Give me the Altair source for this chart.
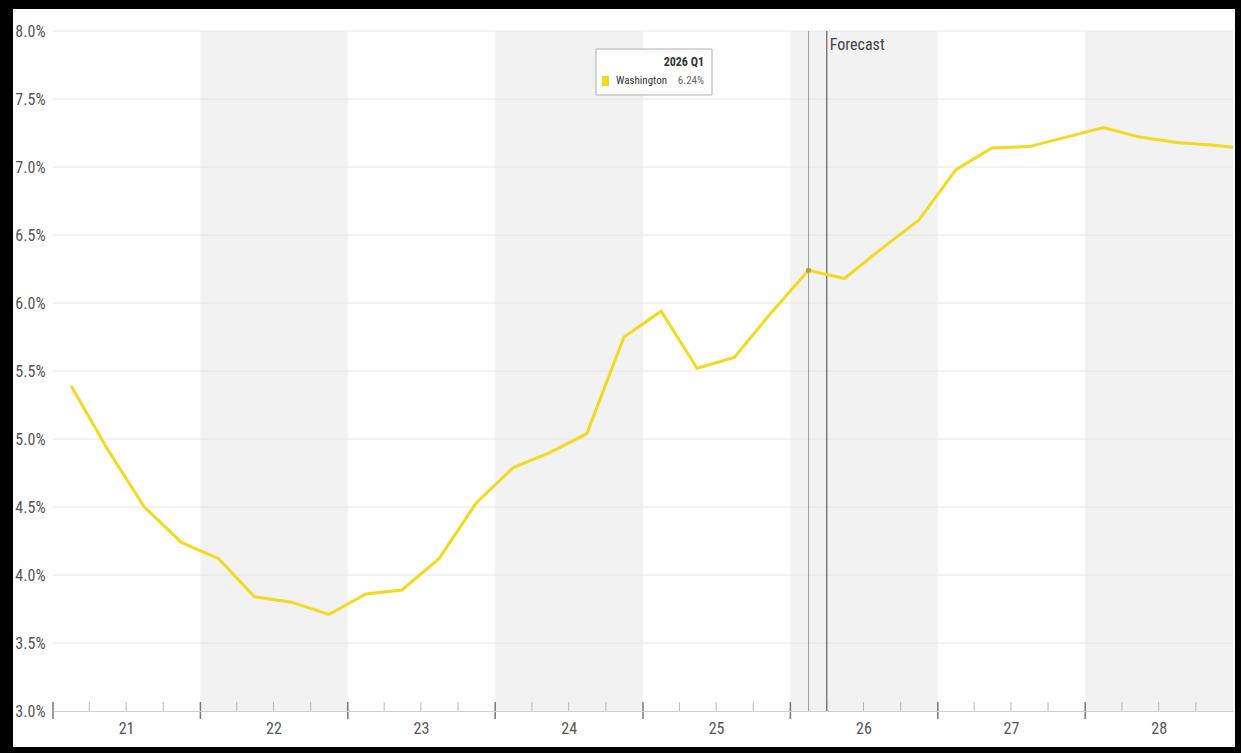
import altair as alt
import pandas as pd

# ---- data ----
quarters = [
    "2021-02-15", "2021-05-15", "2021-08-15", "2021-11-15",
    "2022-02-15", "2022-05-15", "2022-08-15", "2022-11-15",
    "2023-02-15", "2023-05-15", "2023-08-15", "2023-11-15",
    "2024-02-15", "2024-05-15", "2024-08-15", "2024-11-15",
    "2025-02-15", "2025-05-15", "2025-08-15", "2025-11-15",
    "2026-02-15", "2026-05-15", "2026-08-15", "2026-11-15",
    "2027-02-15", "2027-05-15", "2027-08-15", "2027-11-15",
    "2028-02-15", "2028-05-15", "2028-08-15", "2028-11-15",
    "2029-02-15",
]
washington = [
    5.39, 4.93, 4.50, 4.24,
    4.12, 3.84, 3.80, 3.71,
    3.86, 3.89, 4.12, 4.53,
    4.79, 4.90, 5.04, 5.75,
    5.94, 5.52, 5.60, 5.93,
    6.24, 6.18, 6.40, 6.61,
    6.98, 7.14, 7.15, 7.22,
    7.29, 7.22, 7.18, 7.16,
    7.13,
]
series_name = "Washington"
shaded_years = [2022, 2024, 2026, 2028]
year_bounds = [2021, 2022, 2023, 2024, 2025, 2026, 2027, 2028]
label_years = [2021, 2022, 2023, 2024, 2025, 2026, 2027, 2028]
y_ticks = [3.0, 3.5, 4.0, 4.5, 5.0, 5.5, 6.0, 6.5, 7.0, 7.5, 8.0]
forecast_start = "2026-04-01"
forecast_label = "Forecast"
hover_index = 20
hover_label = "2026 Q1"

X_MIN, X_MAX = "2021-01-01", "2029-01-01"
Y_MIN, Y_MAX = 3.0, 8.0
FONT = "Liberation Sans Narrow, Roboto Condensed, Roboto, sans-serif"
LINE_COLOR = "#F3D91F"

xs = alt.Scale(domain=[X_MIN, X_MAX])
ys = alt.Scale(domain=[Y_MIN, Y_MAX])

df = pd.DataFrame({"date": quarters, "value": washington, "series": series_name})
bands = pd.DataFrame({
    "start": [f"{y}-01-01" for y in shaded_years],
    "end": [f"{y + 1}-01-01" for y in shaded_years],
})
major = pd.DataFrame({"date": [f"{y}-01-01" for y in year_bounds]})
minor = pd.DataFrame({"date": [f"{y}-{m:02d}-01" for y in year_bounds for m in (4, 7, 10)]})
grid = pd.DataFrame({"v": [v for v in y_ticks if v > Y_MIN]})
one = pd.DataFrame({"k": [0]})
hover = pd.DataFrame({
    "date": [quarters[hover_index]],
    "value": [washington[hover_index]],
    "label": [hover_label],
    "series": [series_name],
    "vtxt": [f"{washington[hover_index]:.2f}%"],
})
fc = pd.DataFrame({"date": [forecast_start], "label": [forecast_label]})

# white card behind the chart (black frame around)
card = alt.Chart(one).mark_rect(color="white").encode(
    x=alt.value(-40), x2=alt.value(1182), y=alt.value(-22), y2=alt.value(716)
)

band_layer = alt.Chart(bands).mark_rect(color="#f2f2f2").encode(
    x=alt.X("start:T", scale=xs,
            axis=alt.Axis(values=[f"{y}-07-01" for y in label_years], format="%y",
                          ticks=False, grid=False, labelPadding=9, domainColor="#cfcfcf",
                          labelFont=FONT, labelFontSize=16, labelColor="#555555",
                          zindex=1, title=None)),
    x2="end:T",
    y=alt.datum(Y_MIN, scale=ys),
    y2=alt.datum(Y_MAX),
)

grid_layer = alt.Chart(grid).mark_rule(color="#e6e6e6", strokeWidth=1).encode(
    y=alt.Y("v:Q", scale=ys,
            axis=alt.Axis(values=y_ticks, labelExpr="format(datum.value, '.1f') + '%'",
                          ticks=False, domain=False, grid=False, labelPadding=8,
                          labelFont=FONT, labelFontSize=16, labelColor="#555555",
                          zindex=1, title=None)),
)

minor_layer = alt.Chart(minor).mark_rule(color="#b8b8b8", strokeWidth=1).encode(
    x=alt.X("date:T", scale=xs), y=alt.value(671), y2=alt.value(680)
)
major_layer = alt.Chart(major).mark_rule(color="#777777", strokeWidth=1.5).encode(
    x=alt.X("date:T", scale=xs), y=alt.value(671), y2=alt.value(688)
)

hover_rule = alt.Chart(hover).mark_rule(color="#9a9a9a", strokeWidth=1).encode(
    x=alt.X("date:T", scale=xs), y=alt.value(0), y2=alt.value(680)
)
fc_rule = alt.Chart(fc).mark_rule(color="#6e6e6e", strokeWidth=1.3).encode(
    x=alt.X("date:T", scale=xs), y=alt.value(0), y2=alt.value(680)
)
fc_text = alt.Chart(fc).mark_text(
    align="left", baseline="middle", dx=3, font=FONT, fontSize=16, color="#444444"
).encode(x=alt.X("date:T", scale=xs), y=alt.value(14), text="label:N")

line = alt.Chart(df).mark_line(color=LINE_COLOR, strokeWidth=3, clip=True).encode(
    x=alt.X("date:T", scale=xs), y=alt.Y("value:Q", scale=ys)
)
dot = alt.Chart(hover).mark_point(filled=True, color="#b3a230", size=28, opacity=1).encode(
    x=alt.X("date:T", scale=xs), y=alt.Y("value:Q", scale=ys)
)

# tooltip box
tip_box = alt.Chart(one).mark_rect(fill="white", stroke="#b0b0b0", strokeWidth=1).encode(
    x=alt.value(543), x2=alt.value(659), y=alt.value(18), y2=alt.value(64)
)
tip_swatch = alt.Chart(one).mark_rect(color="#F2DA1E").encode(
    x=alt.value(549), x2=alt.value(556), y=alt.value(45), y2=alt.value(55)
)
tip_title = alt.Chart(hover).mark_text(
    align="right", baseline="middle", font=FONT, fontSize=12, fontWeight="bold", color="#333333"
).encode(x=alt.value(651), y=alt.value(31), text="label:N")
tip_name = alt.Chart(hover).mark_text(
    align="left", baseline="middle", font=FONT, fontSize=11, color="#333333"
).encode(x=alt.value(563), y=alt.value(50), text="series:N")
tip_val = alt.Chart(hover).mark_text(
    align="right", baseline="middle", font=FONT, fontSize=11, color="#666666"
).encode(x=alt.value(651), y=alt.value(50), text="vtxt:N")

chart = alt.layer(
    card, band_layer, grid_layer, minor_layer, major_layer,
    hover_rule, fc_rule, fc_text, line, dot,
    tip_box, tip_swatch, tip_title, tip_name, tip_val,
).properties(
    width=1180, height=680,
    autosize=alt.AutoSizeParams(type="none"),
    padding={"left": 53, "top": 31, "right": 8, "bottom": 42},
    background="black",
).configure_view(stroke=None)

chart.save("out.html", embed_options={"renderer": "svg", "actions": False})
